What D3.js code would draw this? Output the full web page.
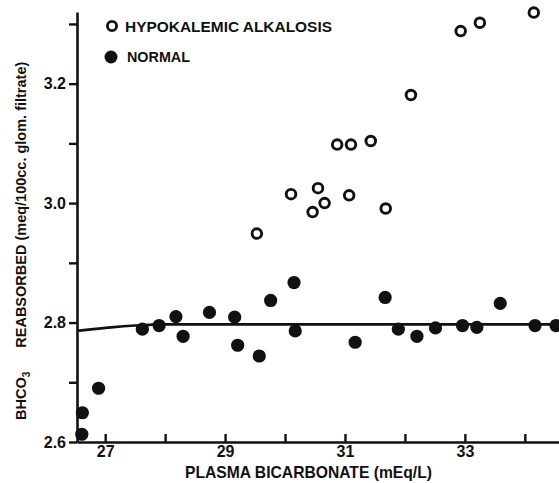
<!DOCTYPE html>
<html>
<head>
<meta charset="utf-8">
<script src="https://cdn.jsdelivr.net/npm/d3@7"></script>
<style>
  body { margin: 0; background: #fff; }
  svg { display: block; }
  text { font-family: "Liberation Sans", Arial, sans-serif; font-weight: bold; fill: #111; }
</style>
</head>
<body>
<div id="chart"></div>
<script>
// hypokalemic alkalosis (open circles)
const hypoX = [29.53, 30.10, 30.46, 30.55, 30.66, 30.87, 31.07, 31.10, 31.43, 31.68, 32.10, 32.93, 33.25, 34.15];
const hypoY = [2.949, 3.015, 2.985, 3.025, 3.000, 3.098, 3.013, 3.098, 3.104, 2.991, 3.181, 3.288, 3.302, 3.319];

// normal (filled circles)
const normX = [26.61, 26.62, 26.89, 27.62, 27.90, 28.18, 28.30, 28.74, 29.16, 29.21, 29.57, 29.76,
               30.15, 30.17, 31.17, 31.67, 31.89, 32.20, 32.51, 32.96, 33.20, 33.59, 34.17, 34.52];
const normY = [2.613, 2.649, 2.690, 2.789, 2.795, 2.810, 2.777, 2.817, 2.809, 2.762, 2.744, 2.837,
               2.867, 2.786, 2.767, 2.842, 2.789, 2.777, 2.791, 2.795, 2.792, 2.832, 2.795, 2.795];

// fitted curve
const fitX = [26.53, 26.8, 27.1, 27.5, 28.0, 29.0, 30.0, 31.0, 32.0, 33.0, 34.0, 34.6];
const fitY = [2.786, 2.789, 2.792, 2.795, 2.797, 2.797, 2.797, 2.797, 2.797, 2.797, 2.797, 2.797];

const xTicks = [27, 28, 29, 30, 31, 32, 33, 34];
const yTicks = [2.6, 2.7, 2.8, 2.9, 3.0, 3.1, 3.2, 3.3];

const W = 559, H = 483;

const svg = d3.select("#chart")
    .append("svg")
    .attr("width", W)
    .attr("height", H);

const x = d3.scaleLinear().domain([26.53, 34.57]).range([77, 559]);
const y = d3.scaleLinear().domain([2.6, 3.32]).range([442, 12]);

// x axis, ticks point up
svg.append("g")
    .attr("transform", `translate(0,${y(2.6)})`)
    .call(d3.axisBottom(x)
        .tickValues(xTicks)
        .tickSizeInner(-8)
        .tickSizeOuter(0)
        .tickPadding(4)
        .tickFormat(d => d % 2 === 1 ? d : ""));

// y axis, ticks point left
svg.append("g")
    .attr("transform", `translate(${x(26.53)},0)`)
    .call(d3.axisLeft(y)
        .tickValues(yTicks)
        .tickSizeInner(8)
        .tickSizeOuter(0)
        .tickPadding(3)
        .tickFormat(d => Math.round(d * 10) % 2 === 0 ? d3.format(".1f")(d) : ""));

svg.selectAll(".domain").attr("stroke", "#111").attr("stroke-width", 2.6);
svg.selectAll(".tick line").attr("stroke", "#111").attr("stroke-width", 2.4);
svg.selectAll(".tick text")
    .style("font-size", "16px")
    .style("font-family", "'Liberation Sans', Arial, sans-serif")
    .style("font-weight", "bold")
    .attr("fill", "#111");

// fitted line
const line = d3.line()
    .x((d, i) => x(fitX[i]))
    .y(d => y(d))
    .curve(d3.curveMonotoneX);

svg.append("path")
    .datum(fitY)
    .attr("d", line)
    .attr("fill", "none")
    .attr("stroke", "#111")
    .attr("stroke-width", 2.6);

// normal points
svg.append("g").selectAll("circle")
    .data(normY)
    .enter().append("circle")
    .attr("cx", (d, i) => x(normX[i]))
    .attr("cy", d => y(d))
    .attr("r", 6.6)
    .attr("fill", "#111");

// hypokalemic points
svg.append("g").selectAll("circle")
    .data(hypoY)
    .enter().append("circle")
    .attr("cx", (d, i) => x(hypoX[i]))
    .attr("cy", d => y(d))
    .attr("r", 4.8)
    .attr("fill", "#fff")
    .attr("stroke", "#111")
    .attr("stroke-width", 2.9);

// legend
svg.append("circle").attr("cx", 112).attr("cy", 26).attr("r", 4.6)
    .attr("fill", "#fff").attr("stroke", "#111").attr("stroke-width", 2.8);
svg.append("text").attr("x", 125).attr("y", 32)
    .style("font-size", "14px")
    .attr("textLength", 207).attr("lengthAdjust", "spacingAndGlyphs")
    .text("HYPOKALEMIC  ALKALOSIS");

svg.append("circle").attr("cx", 111).attr("cy", 57).attr("r", 6.5).attr("fill", "#111");
svg.append("text").attr("x", 127).attr("y", 62)
    .style("font-size", "14px")
    .attr("textLength", 63).attr("lengthAdjust", "spacingAndGlyphs")
    .text("NORMAL");

// x title
svg.append("text")
    .attr("x", 185).attr("y", 478)
    .style("font-size", "17px")
    .attr("textLength", 247).attr("lengthAdjust", "spacingAndGlyphs")
    .text("PLASMA  BICARBONATE (mEq/L)");

// y title
const yt = svg.append("text")
    .attr("transform", "translate(26,420) rotate(-90)")
    .style("font-size", "14.5px");
yt.append("tspan").text("BHCO");
yt.append("tspan").attr("dy", 4).style("font-size", "10px").text("3");
yt.append("tspan").attr("dy", -4).attr("dx", 24).text("REABSORBED (meq/100cc. glom. filtrate)");
</script>
</body>
</html>
